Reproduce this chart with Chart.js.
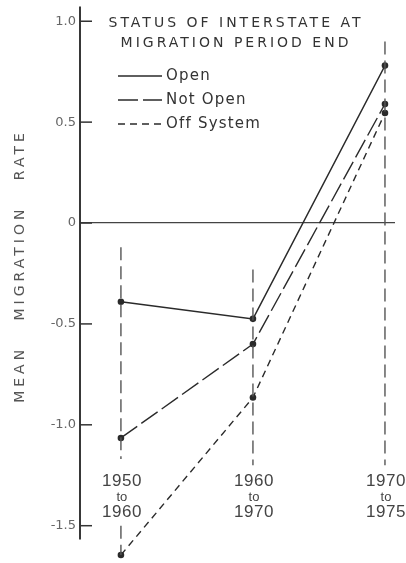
<!DOCTYPE html>
<html><head><meta charset="utf-8">
<script src="https://cdn.jsdelivr.net/npm/chart.js@4"></script>
<style>html,body{margin:0;padding:0;background:#fff}#wrap{width:406px;height:563px;position:relative}</style>
</head><body><div id="wrap"><canvas id="c"></canvas></div>
<script>
const categories = [["1950","to","1960"],["1960","to","1970"],["1970","to","1975"]];
const seriesNames = ["Open","Not Open","Off System"];
const openRates = [-0.39, -0.475, 0.78];
const notOpenRates = [-1.065, -0.60, 0.59];
const offSystemRates = [-1.645, -0.865, 0.545];
const yTickValues = [-1.5, -1.0, -0.5, 0, 0.5, 1.0];
const yTickLabels = ["-1.5", "-1.0", "-0.5", "0", "0.5", "1.0"];
const yAxisTop = 1.073;
const yAxisBottom = -1.568;
const guideTop = [-0.12, -0.23, 0.90];
const guideBottom = [-1.17, -1.20, -1.20];
const guideLowerTop = [-1.50, null, null];
const titleLines = ["STATUS OF INTERSTATE AT", "MIGRATION PERIOD END"];
const yAxisTitle = "MEAN MIGRATION RATE";

const INK = '#2a2a2a';
const FONT = '"DejaVu Sans", sans-serif';
const NUMFONT = '"Liberation Sans", Arial, sans-serif';

const seriesValues = [openRates, notOpenRates, offSystemRates];
const seriesDash = [[], [20, 5], [7, 5]];

const datasets = [];
categories.forEach((c, i) => {
  datasets.push({
    isGuide: true,
    data: [{x: i, y: guideTop[i]}, {x: i, y: guideBottom[i]}],
    borderColor: '#555', borderWidth: 1.4, borderDash: [13, 6],
    pointRadius: 0, clip: false
  });
  if (guideLowerTop[i] !== null) {
    datasets.push({
      isGuide: true,
      data: [{x: i, y: guideLowerTop[i]}, {x: i, y: offSystemRates[i]}],
      borderColor: '#555', borderWidth: 1.4, borderDash: [13, 6],
      pointRadius: 0, clip: false
    });
  }
});
seriesNames.forEach((name, s) => {
  datasets.push({
    label: name,
    data: seriesValues[s].map((v, i) => ({x: i, y: v})),
    borderColor: INK, borderWidth: 1.4, borderDash: seriesDash[s],
    pointRadius: 3.3, pointBackgroundColor: INK, pointBorderColor: INK,
    pointBorderWidth: 0, tension: 0, clip: false
  });
});

const decor = {
  id: 'decor',
  afterDraw(chart) {
    const ctx = chart.ctx, ca = chart.chartArea;
    const xs = chart.scales.x, ys = chart.scales.y;
    ctx.save();
    // y axis line
    ctx.strokeStyle = '#222'; ctx.lineWidth = 1.8;
    ctx.beginPath();
    ctx.moveTo(ca.left, ys.getPixelForValue(yAxisTop));
    ctx.lineTo(ca.left, ys.getPixelForValue(yAxisBottom));
    ctx.stroke();
    // inner tick marks
    ctx.strokeStyle = '#333'; ctx.lineWidth = 1.5;
    yTickValues.forEach(v => {
      const py = ys.getPixelForValue(v);
      ctx.beginPath(); ctx.moveTo(ca.left, py); ctx.lineTo(ca.left + 12, py); ctx.stroke();
    });
    // category labels
    ctx.fillStyle = '#444'; ctx.textAlign = 'center'; ctx.textBaseline = 'middle';
    const rowY = [481, 497, 512];
    const rowFont = ['17px ' + NUMFONT, '13px ' + NUMFONT, '17px ' + NUMFONT];
    categories.forEach((lines, i) => {
      const px = xs.getPixelForValue(i);
      lines.forEach((t, k) => {
        ctx.font = rowFont[k];
        ctx.letterSpacing = k === 1 ? '0px' : '0.5px';
        ctx.fillText(t, px + 1, rowY[k]);
      });
    });
    // title
    ctx.fillStyle = '#333';
    ctx.font = '14px ' + FONT;
    ctx.letterSpacing = '3px';
    ctx.fillText(titleLines[0], 236, 23);
    ctx.fillText(titleLines[1], 236, 43);
    // legend
    ctx.textAlign = 'left';
    ctx.letterSpacing = '1.2px';
    ctx.font = '15px ' + FONT;
    const series = chart.data.datasets.filter(d => !d.isGuide);
    series.forEach((d, k) => {
      const ly = 76 + k * 24;
      ctx.strokeStyle = INK; ctx.lineWidth = 1.4;
      ctx.setLineDash(d.borderDash || []);
      ctx.beginPath(); ctx.moveTo(118, ly); ctx.lineTo(162, ly); ctx.stroke();
      ctx.setLineDash([]);
      ctx.fillText(d.label, 166, ly);
    });
    // y axis title
    ctx.translate(20, 266);
    ctx.rotate(-Math.PI / 2);
    ctx.textAlign = 'center';
    ctx.fillStyle = '#555';
    ctx.font = '14px ' + FONT;
    ctx.letterSpacing = '4px';
    ctx.fillText(yAxisTitle.replace(/ /g, '   '), 0, 0);
    ctx.restore();
  }
};

new Chart(document.getElementById('c'), {
  type: 'line',
  data: { datasets },
  options: {
    responsive: true, maintainAspectRatio: false, animation: false,
    layout: { padding: { top: 6.5, bottom: 0, left: 0, right: 11 } },
    plugins: { legend: { display: false }, tooltip: { enabled: false }, title: { display: false } },
    scales: {
      x: { type: 'linear', display: false, min: -0.31, max: 2.076 },
      y: {
        type: 'linear', min: -1.665, max: yAxisTop,
        afterBuildTicks: s => { s.ticks = yTickValues.map(v => ({ value: v })); },
        afterFit: s => { s.width = 80; s.paddingTop = 0; s.paddingBottom = 0; },
        ticks: {
          padding: 4, color: '#666', font: { size: 13, family: FONT },
          callback: v => yTickLabels[yTickValues.indexOf(v)]
        },
        grid: {
          drawTicks: false,
          color: c => (c.tick && c.tick.value === 0) ? '#444' : 'rgba(0,0,0,0)',
          lineWidth: 1.2
        },
        border: { display: false }
      }
    }
  },
  plugins: [decor]
});
</script>
</body></html>
